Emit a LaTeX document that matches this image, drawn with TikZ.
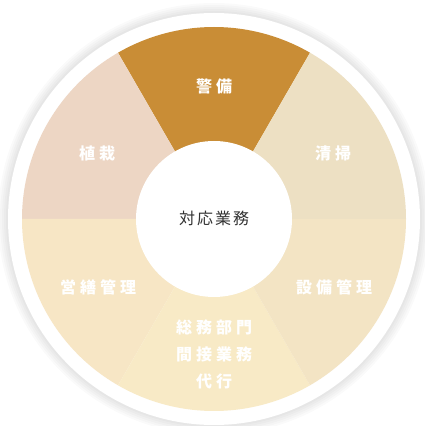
\documentclass[tikz,border=0pt]{standalone}
\usepackage{fontspec}
\newfontfamily\jp{Noto Sans CJK JP}
\definecolor{cDark}{HTML}{C98D36}
\definecolor{cPlant}{HTML}{EDD6C4}
\definecolor{cClean}{HTML}{EDE0C3}
\definecolor{cRepair}{HTML}{F7E6C5}
\definecolor{cFacil}{HTML}{F3E4C4}
\definecolor{cGen}{HTML}{F8EAC6}
\definecolor{cText}{HTML}{333333}
\newcommand\lsp{\kern4pt}
\tikzset{
  lbl/.style={font=\jp\bfseries\fontsize{16}{27}\selectfont, text=white, align=center, inner sep=0pt},
  ctr/.style={font=\jp\fontsize{16}{20}\selectfont, text=cText, inner sep=0pt},
}
\begin{document}
\begin{tikzpicture}[x=1pt,y=1pt]
\useasboundingbox (0,0) rectangle (424,426);
\coordinate (O) at (214,207);
% soft shadow
\foreach \r in {216,214,212,210,208}{
  \fill[black, opacity=0.018] (O) circle (\r);
}
\fill[white] (O) circle (206);
% sectors
\fill[cDark]   (O) -- ++(60:192)  arc (60:120:192)  -- cycle;
\fill[cPlant]  (O) -- ++(120:192) arc (120:180:192) -- cycle;
\fill[cRepair] (O) -- ++(180:192) arc (180:240:192) -- cycle;
\fill[cGen]    (O) -- ++(240:192) arc (240:300:192) -- cycle;
\fill[cFacil]  (O) -- ++(300:192) arc (300:360:192) -- cycle;
\fill[cClean]  (O) -- ++(0:192)   arc (0:60:192)    -- cycle;
\fill[white] (O) circle (78);
% labels
\node[lbl] (keibi) at (214,340) {警\lsp 備};
\node[lbl] (shokusai) at (97,273) {植\lsp 栽};
\node[lbl] (seisou) at (333,273) {清\lsp 掃};
\node[lbl] (eizen) at (98,139) {営\lsp 繕\lsp 管\lsp 理};
\node[lbl] (setsubi) at (334,139) {設\lsp 備\lsp 管\lsp 理};
\node[lbl] (soumu) at (214,71.5) {総\lsp 務\lsp 部\lsp 門\\間\lsp 接\lsp 業\lsp 務\\代\lsp 行};
\node[ctr] (center) at (214,208) {対\kern2pt 応\kern2pt 業\kern2pt 務};
\end{tikzpicture}
\end{document}
